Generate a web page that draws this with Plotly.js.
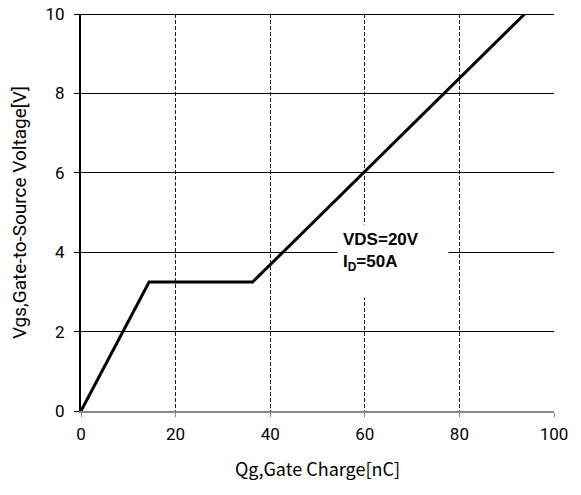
<!DOCTYPE html>
<html>
<head>
<meta charset="utf-8">
<script src="https://cdn.plot.ly/plotly-3.0.1.min.js"></script>
<style>html,body{margin:0;padding:0;background:#fff;}#chart{width:581px;height:495px;}</style>
</head>
<body>
<div id="chart"></div>
<script>
// Gate charge curve (Qg in nC, Vgs in V)
const qg = [0, 14.4, 36.3, 93.8];
const vgs = [0, 3.25, 3.25, 10];
const xTicks = [0, 20, 40, 60, 80, 100];
const yTicks = [0, 2, 4, 6, 8, 10];
const noteText = 'VDS=20V<br>I<sub>D</sub>=50A';

const trace = {
  x: qg, y: vgs, type: 'scatter', mode: 'lines',
  line: {color: '#000', width: 3}, hoverinfo: 'skip'
};

const layout = {
  width: 581, height: 495,
  margin: {l: 81, r: 27, t: 14, b: 84},
  paper_bgcolor: '#fff', plot_bgcolor: '#fff',
  showlegend: false,
  font: {family: 'Roboto, Arial, sans-serif', color: '#000'},
  xaxis: {
    range: [0, 100], tickvals: xTicks, ticktext: xTicks.map(String),
    showgrid: true, gridcolor: '#222', gridwidth: 1, griddash: '4px,2px',
    showline: true, linecolor: '#888', linewidth: 2,
    ticks: 'outside', ticklen: 4, tickcolor: '#888', tickwidth: 1,
    ticklabelstandoff: 3,
    zeroline: false, tickfont: {size: 17, family: 'Roboto, Arial, sans-serif'},
    title: {text: 'Qg,Gate Charge[nC]', font: {size: 18, family: '"Noto Sans CJK JP", Roboto, sans-serif'}, standoff: 20}
  },
  yaxis: {
    range: [0, 10], tickvals: yTicks, ticktext: yTicks.map(String),
    showgrid: true, gridcolor: '#000', gridwidth: 1,
    showline: true, linecolor: '#000', linewidth: 2,
    ticks: 'outside', ticklen: 5, tickcolor: '#000', tickwidth: 1,
    ticklabelstandoff: 6,
    zeroline: false, tickfont: {size: 17, family: 'Roboto, Arial, sans-serif'},
    title: {text: 'Vgs,Gate-to-Source Voltage[V]', font: {size: 19, family: 'Roboto, Arial, sans-serif'}, standoff: 14}
  },
  shapes: [
    {type: 'line', xref: 'paper', yref: 'y', x0: 0, x1: 1, y0: 10, y1: 10, line: {color: '#000', width: 2}, layer: 'below'}
  ],
  annotations: [{
    xref: 'x', yref: 'y', x: 65.9, y: 3.77, xanchor: 'center', yanchor: 'middle',
    text: noteText, showarrow: false, align: 'left', valign: 'top',
    width: 100, height: 62, borderpad: 5, bgcolor: '#fff',
    font: {family: '"Liberation Sans", Arial, sans-serif', size: 17, color: '#000', weight: 'bold'}
  }]
};

Plotly.newPlot('chart', [trace], layout, {displayModeBar: false, staticPlot: true});
</script>
</body>
</html>
